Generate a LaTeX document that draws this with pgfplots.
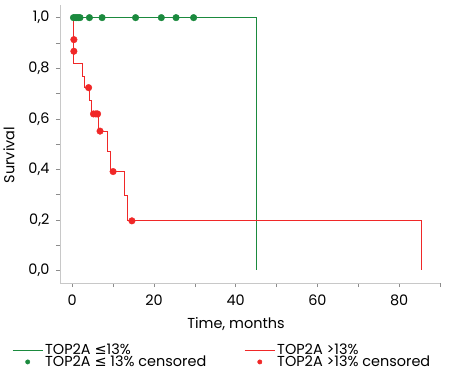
\documentclass[border=0pt]{standalone}
\usepackage{fontspec}
\setmainfont{Poppins}
\newfontfamily\symfont{DejaVu Sans}
\usepackage{pgfplots}
\pgfplotsset{compat=1.18}
\definecolor{kmgreen}{HTML}{1B8A3E}
\definecolor{kmred}{HTML}{F02828}
\definecolor{axgray}{HTML}{C8C8C8}
\newcommand{\lesym}{{\symfont ≤}}
\begin{document}
\begin{tikzpicture}
\useasboundingbox (-60bp,-87bp) rectangle (399bp,283bp);
\begin{axis}[
  at={(0,0)}, anchor=south west,
  scale only axis, width=380bp, height=278bp,
  xmin=-3, xmax=90, ymin=-0.05, ymax=1.05,
  axis lines=left, axis line style={axgray, line width=1pt, -},
  xtick={0,20,40,60,80}, minor xtick={10,30,50,70,90},
  ytick={0,0.2,0.4,0.6,0.8,1.0}, minor ytick={0.1,0.3,0.5,0.7,0.9},
  tick align=outside, major tick length=4bp, minor tick length=4bp,
  tick style={axgray!80!black, line width=0.6pt},
  every tick/.style={axgray!70!black},
  font=\fontsize{14.5}{16}\selectfont,
  ticklabel style={font=\fontsize{14.5}{16}\selectfont},
  /pgf/number format/assume math mode=true,
  yticklabel style={xshift=-3bp, /pgf/number format/.cd, use comma, fixed, fixed zerofill, precision=1},
  xticklabel style={yshift=-4bp, /pgf/number format/.cd, fixed, precision=0},
  xlabel={Time, months}, ylabel={Survival},
  xlabel style={at={(axis description cs:0.463,0)}, anchor=north, yshift=-31bp},
  ylabel style={at={(axis description cs:0,0.46)}, anchor=south, yshift=42bp},
  legend columns=2,
  legend style={at={(-48bp,-59bp)}, anchor=north west, draw=none, fill=none,
    font=\fontsize{14.5}{14}\selectfont, inner sep=0pt, row sep=-4.5bp,
    nodes={inner sep=2bp},
    /tikz/every even column/.append style={column sep=36bp}},
  legend cell align=left,
  legend image code/.code={\draw[#1] (-0.1bp,0bp) -- (30bp,0bp);},
]
\addplot[kmgreen, line width=0.8pt] coordinates {(0,1) (45.1,1) (45.1,0)};
\addlegendentry{TOP2A \lesym13\%}
\addplot[kmred, line width=0.8pt] coordinates {
(0.3,1) (0.3,0.82) (2.4,0.82) (2.4,0.769) (2.9,0.769) (2.9,0.723) (4.2,0.723)
(4.2,0.673) (4.6,0.673) (4.6,0.619) (6.3,0.619) (6.3,0.551) (8.6,0.551)
(8.6,0.47) (9.3,0.47) (9.3,0.391) (12.8,0.391) (12.8,0.295) (13.6,0.295)
(13.6,0.196) (85.5,0.196) (85.5,0)};
\addlegendentry{TOP2A >13\%}
\addplot[only marks, mark=*, mark size=3.3bp, color=kmgreen,
  legend image code/.code={\fill[kmgreen] (15bp,0bp) circle (2.2bp); \path (30bp,0bp);}] coordinates {
(0.3,1) (0.7,1) (1.1,1) (1.5,1) (1.9,1) (4.2,1) (7.3,1) (15.5,1) (21.8,1) (25.4,1) (29.7,1)};
\addlegendentry{TOP2A \lesym\ 13\% censored}
\addplot[only marks, mark=*, mark size=3.3bp, color=kmred,
  legend image code/.code={\fill[kmred] (15bp,0bp) circle (2.2bp); \path (30bp,0bp);}] coordinates {
(0.4,0.913) (0.4,0.867) (4.0,0.723) (5.2,0.619) (5.8,0.619) (6.2,0.619)
(6.8,0.551) (10.0,0.391) (14.6,0.196)};
\addlegendentry{TOP2A >13\% censored}
\end{axis}
\end{tikzpicture}
\end{document}
